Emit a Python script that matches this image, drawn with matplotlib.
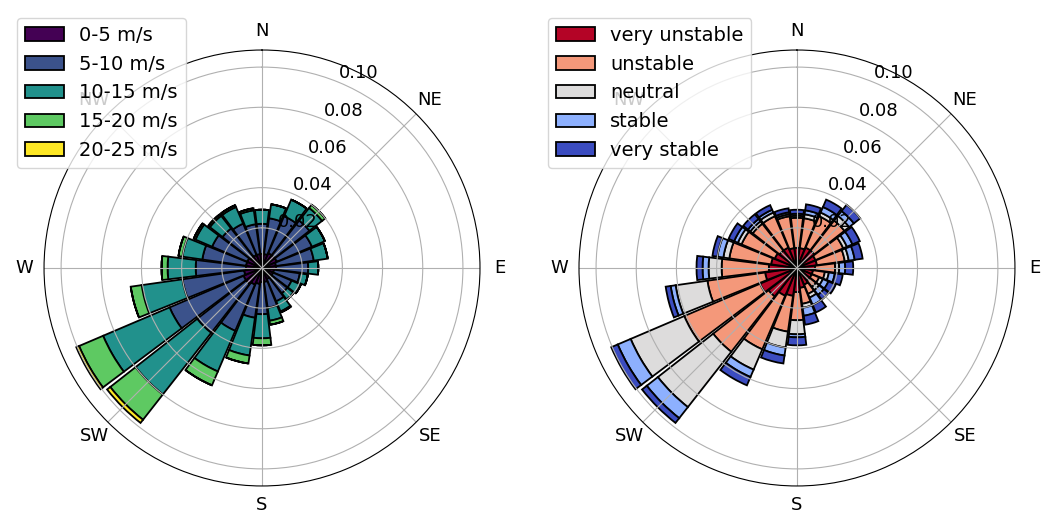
import numpy as np
import matplotlib
matplotlib.use('Agg')
import matplotlib.pyplot as plt

# hướng gió (độ, tính từ Bắc theo chiều kim đồng hồ), 24 sector
dir_deg = [0, 15, 30, 45, 60, 75, 90, 105, 120, 135, 150, 165,
           180, 195, 210, 225, 240, 255, 270, 285, 300, 315, 330, 345]
compass = ['N', 'NE', 'E', 'SE', 'S', 'SW', 'W', 'NW']

# tần suất theo cấp tốc độ gió
speed_labels = ['0-5 m/s', '5-10 m/s', '10-15 m/s', '15-20 m/s', '20-25 m/s']
spd_0_5 = [.007, .007, .008, .008, .008, .007, .007, .006, .006, .006, .006, .007,
           .007, .008, .009, .010, .010, .009, .008, .008, .008, .007, .007, .007]
spd_5_10 = [.015, .018, .020, .022, .019, .019, .016, .013, .010, .010, .012, .013,
            .016, .017, .025, .031, .040, .031, .025, .022, .019, .018, .017, .015]
spd_10_15 = [.007, .007, .009, .008, .007, .007, .005, .004, .005, .004, .0055, .0065,
             .012, .019, .022, .039, .036, .0205, .014, .010, .009, .008, .009, .007]
spd_15_20 = [0, 0, 0, .002, 0, 0, 0, 0, 0, 0, .0005, .002,
             .0035, .004, .0075, .016, .013, .0055, .003, .002, .001, .001, .001, .001]
spd_20_25 = [0, 0, 0, 0, 0, 0, 0, 0, 0, 0, 0, 0,
             0, 0, 0, .002, .0015, 0, 0, 0, 0, 0, 0, 0]

# tần suất theo độ ổn định khí quyển
stab_labels = ['very unstable', 'unstable', 'neutral', 'stable', 'very stable']
very_unstable = [.010, .010, .011, .011, .010, .010, .009, .008, .008, .008, .009, .010,
                 .012, .014, .015, .018, .020, .016, .014, .013, .012, .011, .011, .010]
unstable = [.015, .015, .017, .019, .015, .014, .010, .006, .004, .004, .005, .008,
            .014, .018, .029, .035, .041, .029, .0235, .021, .018, .017, .017, .016]
neutral = [.001, .002, .002, .003, .002, .002, .002, .002, .002, .002, .002, .002,
           .007, .008, .011, .035, .029, .016, .0065, .003, .002, .0015, .002, .001]
stable = [.001, .002, .003, .003, .003, .003, .003, .003, .003, .003, .004, .004,
          .0015, .004, .004, .007, .007, .0025, .003, .003, .002, .0015, .0015, .001]
very_stable = [.002, .003, .004, .004, .004, .004, .004, .004, .004, .003, .004, .0045,
               .004, .004, .0045, .003, .0035, .0025, .003, .0025, .003, .003, .0025, .002]

speed_data = [spd_0_5, spd_5_10, spd_10_15, spd_15_20, spd_20_25]
stab_data = [very_unstable, unstable, neutral, stable, very_stable]

speed_colors = plt.cm.viridis(np.linspace(0, 1, 5))
stab_colors = plt.cm.coolwarm(np.linspace(1, 0, 5))

plt.rcParams['font.size'] = 13

fig = plt.figure(figsize=(10.51, 5.22), dpi=100)
ax1 = fig.add_axes([0.0419, 0.069, 0.4148, 0.8352], projection='polar')
ax2 = fig.add_axes([0.5509, 0.069, 0.4148, 0.8352], projection='polar')

theta = np.deg2rad(dir_deg)
width = np.deg2rad(15) * 0.92


def wind_rose(ax, layers, labels, colors, legend_x):
    ax.set_theta_zero_location('N')
    ax.set_theta_direction(-1)
    bottom = np.zeros(len(dir_deg))
    for vals, lab, col in zip(layers, labels, colors):
        vals = np.array(vals)
        ax.bar(theta, vals, width=width, bottom=bottom, color=col,
               edgecolor='black', linewidth=1.3, label=lab)
        bottom += vals
    ax.set_xticks(np.deg2rad(np.arange(0, 360, 45)))
    ax.set_xticklabels(compass)
    ax.set_ylim(0, 0.1085)
    ax.set_yticks([0.02, 0.04, 0.06, 0.08, 0.10])
    ax.set_yticklabels(['0.02', '0.04', '0.06', '0.08', '0.10'])
    ax.legend(loc='upper left', bbox_to_anchor=(legend_x, 1.073),
              borderaxespad=0, fontsize=14)


wind_rose(ax1, speed_data, speed_labels, speed_colors, -0.062)
wind_rose(ax2, stab_data, stab_labels, stab_colors, -0.071)

plt.savefig('out.png', dpi=100)
